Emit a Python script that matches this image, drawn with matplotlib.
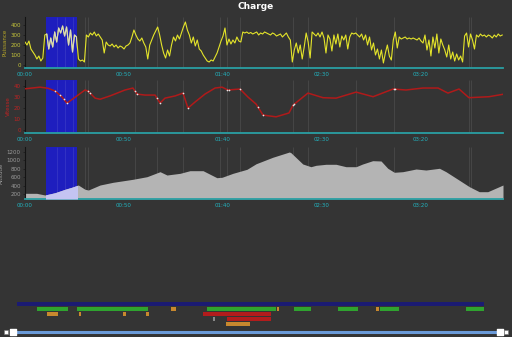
import matplotlib
matplotlib.use('Agg')
import matplotlib.pyplot as plt
import numpy as np

# ---------------- data ----------------
power = [230, 200, 240, 160, 130, 100, 60, 90, 40, 70,
         300, 310, 160, 270, 180, 330, 230, 370, 320, 390,
         290, 380, 200, 350, 130, 300, 280, 60, 40, 50,
         30, 300, 280, 320, 300, 330, 290, 310, 280, 250,
         120, 230, 200, 190, 210, 180, 200, 170, 190, 180,
         160, 190, 200, 220, 280, 350, 300, 260, 240, 270,
         220, 180, 60, 200, 250, 300, 340, 380, 300, 200,
         120, 70, 150, 90, 200, 280, 240, 300, 260, 320,
         380, 430, 350, 300, 220, 280, 190, 250, 160, 140,
         100, 70, 40, 30, 50, 40, 80, 120, 180, 240,
         290, 370, 200, 260, 210, 250, 220, 280, 240, 230,
         330, 320, 330, 315, 325, 310, 320, 330, 300, 320,
         310, 330, 320, 310, 300, 320, 310, 290, 300, 310,
         280, 300, 320, 280, 250, 30, 150, 220, 120, 200,
         60, 180, 320, 230, 70, 330, 310, 290, 320, 280,
         330, 270, 120, 300, 260, 140, 300, 210, 310, 180,
         290, 250, 300, 160, 280, 320, 310, 320, 300, 280,
         310, 250, 300, 200, 280, 150, 220, 100, 160, 60,
         150, 20, 120, 200, 90, 50, 250, 330, 170, 280,
         260, 270, 280, 260, 270, 260, 270, 260, 250, 270,
         240, 220, 300, 150, 250, 90, 280, 170, 310, 120,
         260, 200, 150, 80, 200, 60, 130, 40, 110, 50,
         90, 30, 290, 320, 180, 310, 250, 160, 300, 280,
         310, 290, 300, 280, 300, 290, 270, 300, 280, 310,
         290, 300]
power_t = np.arange(len(power))  # minutes

speed_t = [0, 7.6, 11.6, 15.2, 18.7, 21.2, 22.7, 26.8, 30.3, 31.8, 35.4, 37.9,
           42.9, 50.5, 54.5, 56.6, 60.6, 65.7, 68.2, 70.7, 75.8, 79.8, 82.3,
           85.9, 90.9, 96.0, 99.5, 102.5, 108.6, 112.6, 116.7, 120.2, 126.8,
           133.3, 135.4, 142.9, 150.5, 157.1, 167.2, 175.8, 185.9, 192.4,
           201.0, 208.6, 213.6, 219.2, 224.2, 234.3, 241.4]
speed_v = [37.5, 39, 38, 35.5, 30, 24.5, 26.4, 31.8, 36.4, 35.5, 29, 28,
           31, 36.4, 38.2, 32.7, 31.8, 31.8, 24.5, 29, 31, 33.6, 20,
           25.5, 32.7, 38.2, 39, 36.4, 37.3, 30, 23.6, 13.6, 12,
           15.5, 22.7, 33.6, 29.4, 29, 34.5, 30.3, 37.3, 36.4,
           38.2, 38.2, 33.6, 37.3, 29.4, 30.3, 32.5]

alt_t = [0, 5.9, 10.1, 15.2, 20.2, 23.6, 26.9, 30.3, 32.0, 37.9, 44.4, 54.5,
         61.6, 68.2, 71.7, 78.3, 83.3, 89.9, 96.9, 99.5, 105.0, 112.1, 116.7,
         125.1, 133.5, 134.3, 140.3, 144.4, 147.0, 152.0, 157.1, 162.1, 167.2,
         170.5, 175.6, 179.8, 183.2, 186.5, 190.8, 197.5, 202.5, 209.3, 212.6,
         218.6, 224.4, 229.4, 233.7, 241.4]
alt_v = [216, 216, 176, 231, 312, 360, 414, 312, 295, 414, 478, 550,
         612, 731, 652, 692, 755, 755, 588, 598, 692, 788, 920,
         1074, 1200, 1183, 914, 850, 883, 907, 907, 850, 850,
         914, 993, 986, 812, 717, 731, 795, 771, 812, 731,
         550, 374, 255, 255, 414]

lap_marks = [15.2, 17.7, 19.7, 21.2, 31.8, 32.8, 55.6, 56.6, 66.7, 68.2,
             79.8, 82.3, 102.0, 103.0, 108.6, 117.7, 120.2, 135.4, 135.9,
             186.4, 187.0]
lap_lines = [16.3, 20.2, 24.3, 30.3, 31.8, 55.6, 66.7, 79.8, 98.5, 102.0,
             108.6, 135.4, 143.0, 167.0, 186.4, 224.0, 225.0]

selection = (10.6, 26.3)

xtick_vals = [0, 50, 100, 150, 200]
xtick_labels = ['00:00', '00:50', '01:40', '02:30', '03:20']

# timeline (percent of ride): (row, start, width, colour-key)
tl_rows = [0, 1, 1, 1, 1, 1, 1, 1, 1, 1, 1, 2, 2, 2, 2, 2, 3, 3, 4]
tl_start = [0, 4.3, 12.8, 40.7, 59.3, 68.7, 77.7, 96.1, 33.0, 76.9, 55.7,
            6.4, 13.3, 22.7, 27.6, 39.8, 45.0, 42.0, 44.8]
tl_width = [100, 6.6, 15.3, 14.8, 3.7, 4.3, 4.1, 4.1, 1.1, 0.6, 0.4,
            2.4, 0.4, 0.6, 0.6, 14.6, 9.4, 0.3, 5.1]
tl_kind = ['navy', 'green', 'green', 'green', 'green', 'green', 'green', 'green',
           'orange', 'orange', 'orange', 'orange', 'orange', 'orange', 'orange',
           'red', 'red', 'gray', 'orange']

# ---------------- style ----------------
BG = '#343434'
BLUE = '#1e1ebe'
CYAN = '#22b3bf'
AXIS_CYAN = '#2a9fa3'
kind_colors = {'navy': '#1b1b72', 'green': '#2fa32f', 'orange': '#c8882e',
               'red': '#b21c1c', 'gray': '#888888'}

fig = plt.figure(figsize=(5.12, 3.37), dpi=100, facecolor=BG)


def place(top_px, bottom_px, left_px=25, right_px=503):
    return [left_px / 512, 1 - bottom_px / 337,
            (right_px - left_px) / 512, (bottom_px - top_px) / 337]


def style(ax, ylim, yticks, ycolor, ylabel, lcolor):
    ax.set_facecolor(BG)
    ax.set_xlim(0, 241.4)
    ax.set_ylim(*ylim)
    ax.set_xticks(xtick_vals)
    ax.set_xticklabels(xtick_labels)
    ax.set_yticks(yticks)
    ax.tick_params(axis='x', colors=CYAN, labelsize=4, length=0, pad=3)
    ax.tick_params(axis='y', colors='#1a1a1a', labelcolor=ycolor,
                   labelsize=4, length=1.5, width=0.5, pad=1.5)
    for s in ('top', 'right'):
        ax.spines[s].set_visible(False)
    ax.spines['bottom'].set_color(AXIS_CYAN)
    ax.spines['bottom'].set_linewidth(1.3)
    ax.spines['left'].set_color('#141414')
    ax.spines['left'].set_linewidth(0.8)
    ax.set_ylabel(ylabel, fontsize=4, color=lcolor, labelpad=2)
    rect = ax.axvspan(*selection, color=BLUE, zorder=1, lw=0)
    ax.vlines(lap_lines, ylim[0], ylim[1], colors='white', alpha=0.10,
              lw=0.6, zorder=1.5)
    return rect


# Power
ax1 = fig.add_axes(place(17, 68))
r1 = style(ax1, (-30, 480), [0, 100, 200, 300, 400], '#c4c43a', 'Puissance', '#b8a828')
ax1.plot(power_t, power, color='#e4e42a', lw=0.8, zorder=3)
hl = ax1.plot(power_t, power, color='#d8d8c0', lw=0.8, zorder=4)[0]
hl.set_clip_path(r1)

# Speed
ax2 = fig.add_axes(place(80, 133))
r2 = style(ax2, (-2.7, 45.5), [0, 10, 20, 30, 40], '#c02222', 'Vitesse', '#c02222')
ax2.plot(speed_t, speed_v, color='#b01a1a', lw=1.1, zorder=3)
ax2.scatter(lap_marks, np.interp(lap_marks, speed_t, speed_v), s=1.5,
            color='#e6e6e6', zorder=4, linewidths=0)

# Altitude
ax3 = fig.add_axes(place(147, 199))
r3 = style(ax3, (81, 1319), [200, 400, 600, 800, 1000, 1200], '#9a9a9a', 'Altitude', '#9a9a9a')
ax3.fill_between(alt_t, alt_v, 81, color='#b4b4b4', lw=0, zorder=2)
hf = ax3.fill_between(alt_t, alt_v, 81, color='#c4c4f2', lw=0, zorder=3)
hf.set_clip_path(r3)

fig.text(0.5, 1 - 6.5 / 337, 'Charge', ha='center', va='center',
         color='white', fontsize=6.5, fontweight='bold')

# Timeline
axt = fig.add_axes(place(301.5, 326.5, 17, 484))
axt.set_facecolor('none')
axt.set_xlim(0, 100)
axt.set_ylim(4.5, -0.5)
axt.axis('off')
axt.barh(tl_rows, tl_width, left=tl_start, height=0.8,
         color=[kind_colors[k] for k in tl_kind], lw=0)

# Slider
slider_range = [2.5, 97.7]
axs = fig.add_axes(place(328, 336, 0, 512))
axs.set_facecolor('none')
axs.set_xlim(0, 100)
axs.set_ylim(-1, 1)
axs.axis('off')
axs.plot(slider_range, [0, 0], color='#6a9ad8', lw=2.2, solid_capstyle='butt')
axs.scatter(slider_range, [0, 0], marker='s', s=14, color='white', zorder=3)
axs.scatter([1.2, 98.9], [0, 0], marker='s', s=12, color='white',
            edgecolors='#777777', linewidths=0.4, zorder=3)

fig.savefig('out.png', dpi=100, facecolor=BG)
